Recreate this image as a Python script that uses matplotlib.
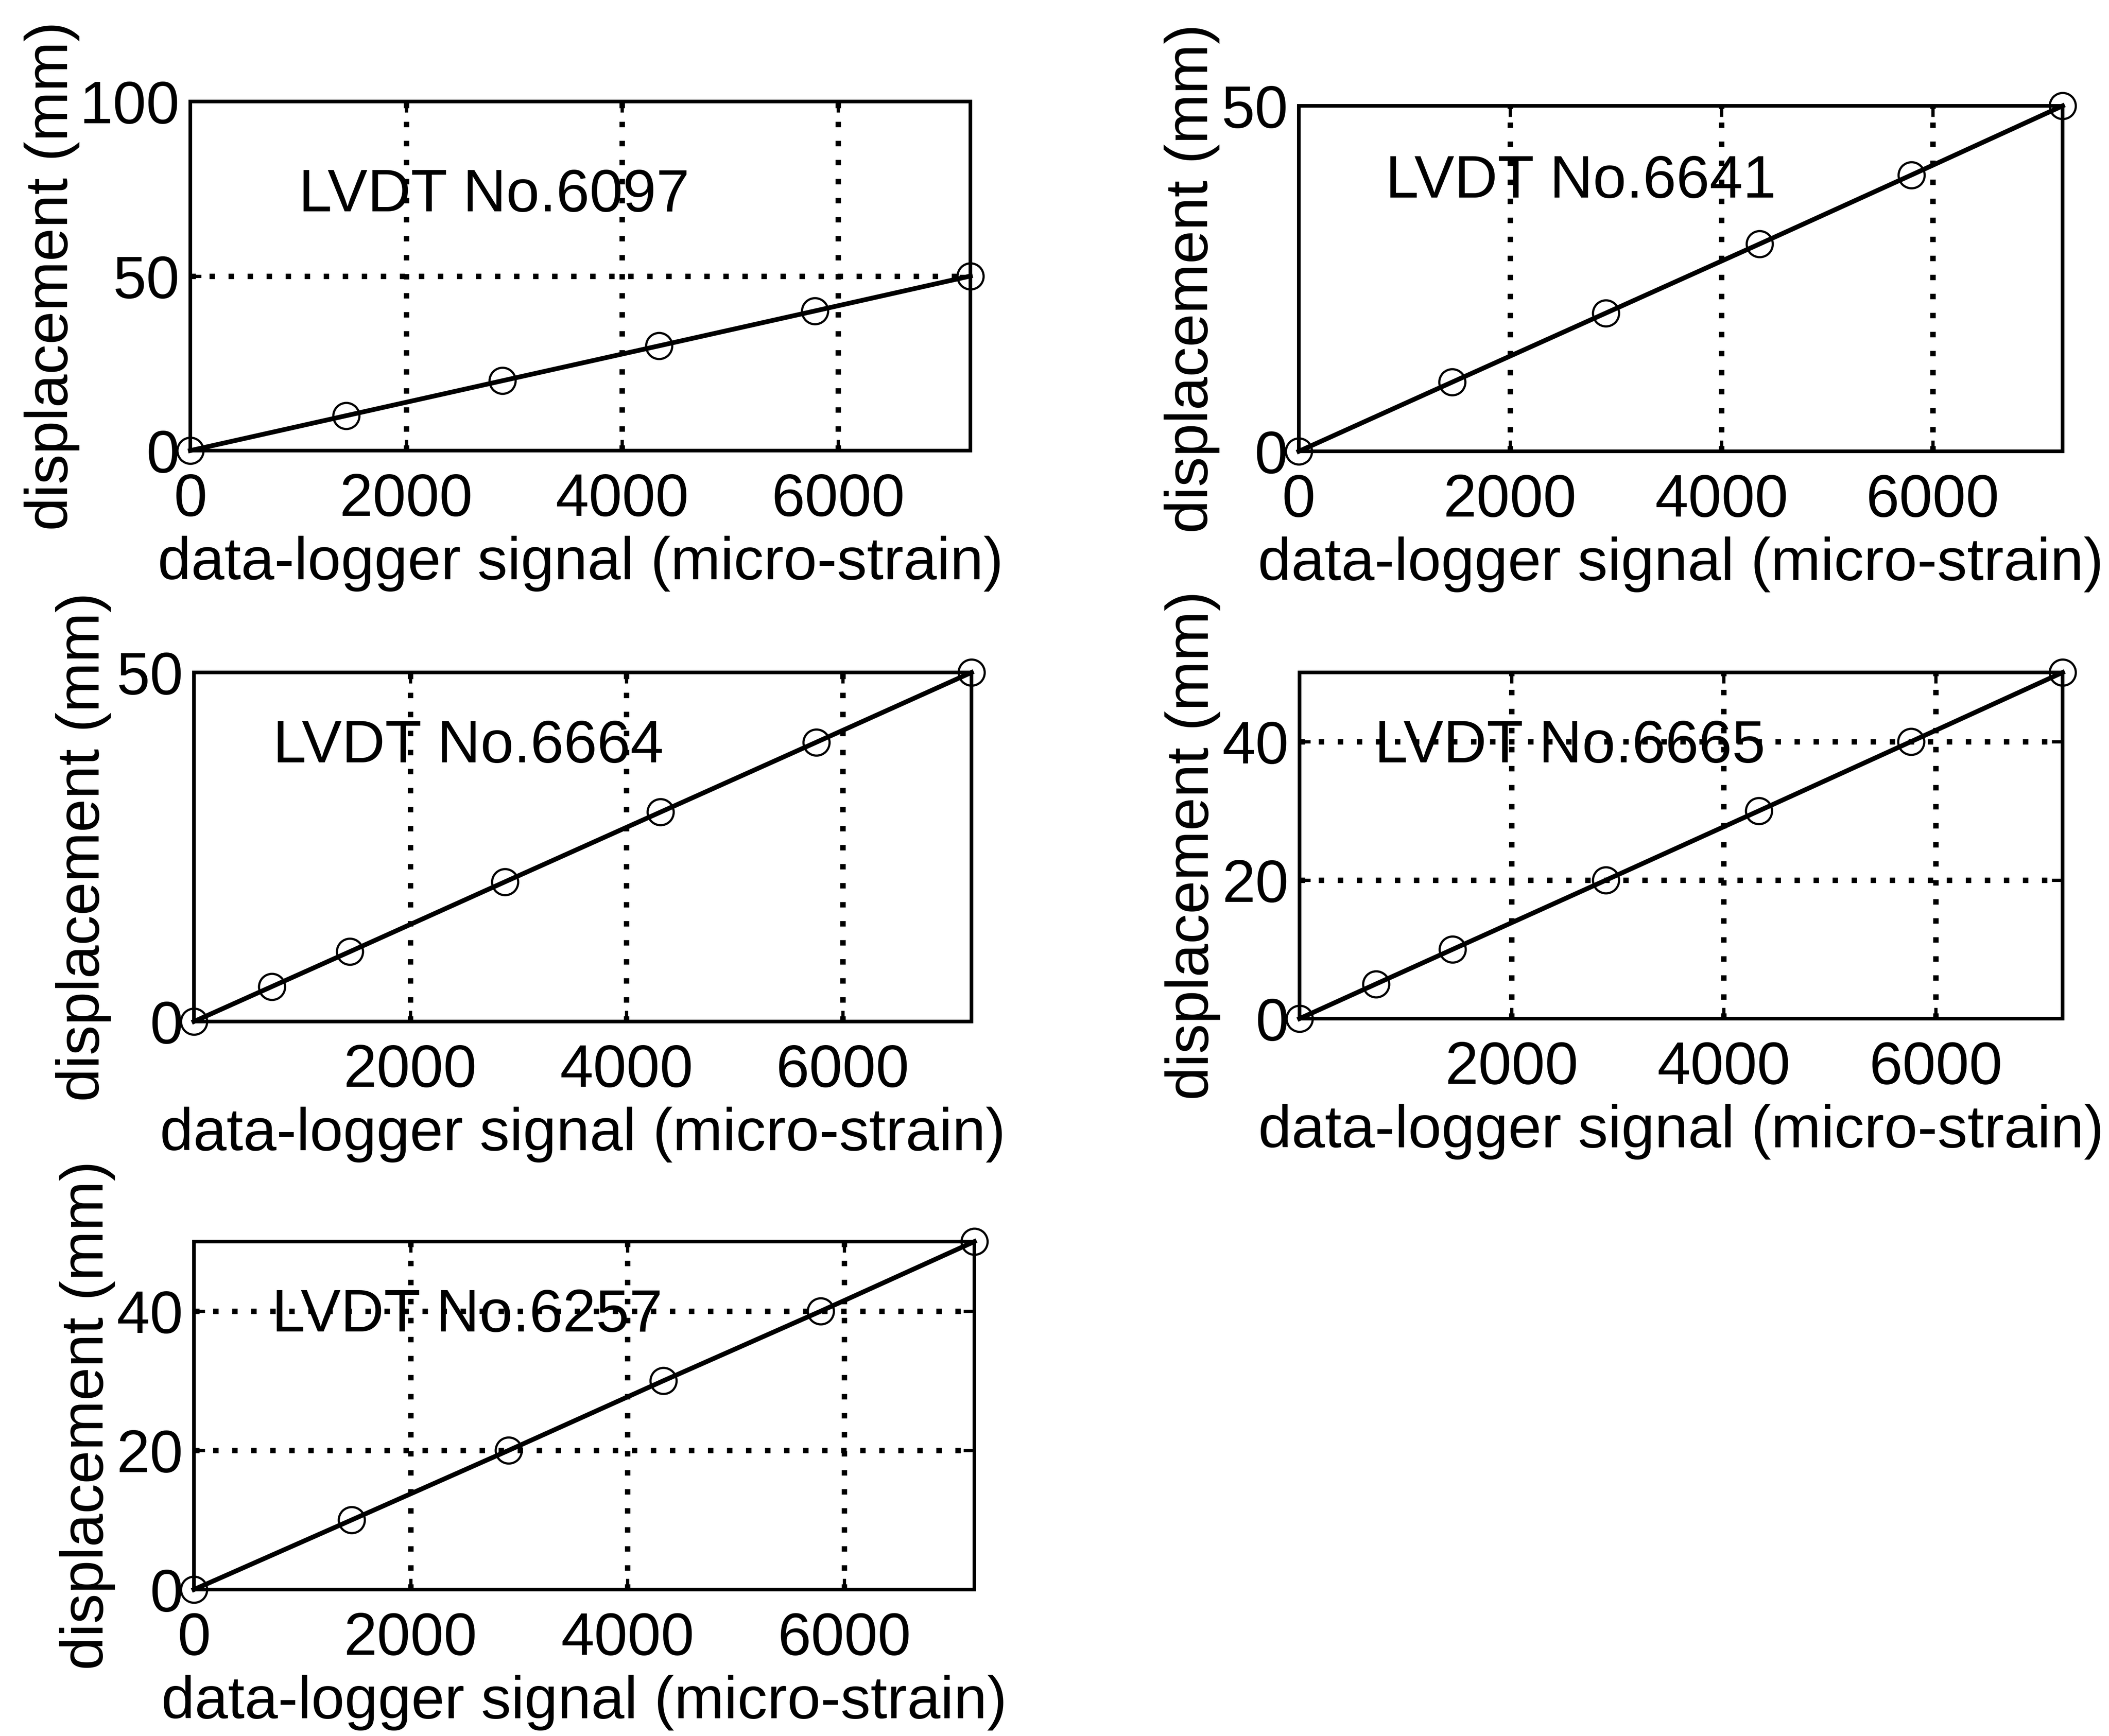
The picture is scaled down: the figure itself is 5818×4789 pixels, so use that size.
import matplotlib
matplotlib.use("Agg")
import matplotlib.pyplot as plt

# ---- calibration data: LVDT displacement vs data-logger signal ----
lvdt_names = ["LVDT No.6097", "LVDT No.6641", "LVDT No.6664", "LVDT No.6665", "LVDT No.6257"]

signal_6097 = [0, 1444, 2890, 4340, 5785, 7225]
disp_6097 = [0, 10, 20, 30, 40, 50]

signal_6641 = [0, 1450, 2905, 4360, 5800, 7230]
disp_6641 = [0, 10, 20, 30, 40, 50]

signal_6664 = [0, 720, 1441, 2875, 4315, 5755, 7190]
disp_6664 = [0, 5, 10, 20, 30, 40, 50]

signal_6665 = [0, 720, 1443, 2889, 4330, 5765, 7195]
disp_6665 = [0, 5, 10, 20, 30, 40, 50]

signal_6257 = [0, 1455, 2904, 4331, 5783, 7200]
disp_6257 = [0, 10, 20, 30, 40, 50]

signals = [signal_6097, signal_6641, signal_6664, signal_6665, signal_6257]
disps = [disp_6097, disp_6641, disp_6664, disp_6665, disp_6257]

y_limits = [(0, 100), (0, 50), (0, 50), (0, 50), (0, 50)]
y_ticks = [[0, 50, 100], [0, 50], [0, 50], [0, 20, 40], [0, 20, 40]]
x_ticks = [[0, 2000, 4000, 6000], [0, 2000, 4000, 6000], [2000, 4000, 6000],
           [2000, 4000, 6000], [0, 2000, 4000, 6000]]

xlabel_text = "data-logger signal (micro-strain)"
ylabel_text = "displacement (mm)"

# ---- layout (pixels in the saved image) ----
W, H = 5818, 4789
DPI = 100
# left, right, top, bottom of each axes box
boxes = [
    (525, 2677, 280, 1243),
    (3583, 5690, 292, 1245),
    (535, 2680, 1855, 2818),
    (3585, 5690, 1855, 2810),
    (535, 2688, 3425, 4385),
]
# gap (px) from axes left edge to the right side of the rotated y label
ylabel_gap = [305, 218, 228, 218, 217]
# annotation anchor in data coordinates (left, baseline)
note_pos = [(1004, 68.5), (820, 36.7), (731, 37.1), (707, 37.0), (719, 37.1)]

FS = 119            # ~165 px em
PX = 72.0 / DPI     # points per pixel

plt.rcParams["font.family"] = ["Liberation Sans", "DejaVu Sans"]

fig = plt.figure(figsize=(W / DPI, H / DPI), dpi=DPI, facecolor="white")

for i in range(5):
    l, r, t, b = boxes[i]
    ax = fig.add_axes([l / W, 1 - b / H, (r - l) / W, (b - t) / H])
    xs, ys = signals[i], disps[i]
    ax.set_xlim(0, xs[-1])
    ax.set_ylim(*y_limits[i])
    ax.set_xticks(x_ticks[i])
    ax.set_yticks(y_ticks[i])
    ax.set_xticklabels([str(v) for v in x_ticks[i]])
    ax.set_yticklabels([str(v) for v in y_ticks[i]])

    # dotted grid at interior tick positions
    grid_kw = dict(color="black", lw=15 * PX, linestyle=(0, (1, 2.5)), zorder=1)
    for xv in x_ticks[i]:
        if 0 < xv < xs[-1]:
            ax.axvline(xv, **grid_kw)
    for yv in y_ticks[i]:
        if y_limits[i][0] < yv < y_limits[i][1]:
            ax.axhline(yv, **grid_kw)

    ax.plot(xs, ys, color="black", lw=13 * PX, marker="o", ms=72 * PX,
            mfc="none", mec="black", mew=6 * PX, clip_on=False, zorder=3)

    for sp in ax.spines.values():
        sp.set_linewidth(10 * PX)
        sp.set_zorder(4)
    ax.tick_params(direction="in", length=30 * PX, width=9 * PX,
                   top=True, right=True, labelsize=FS, color="black")
    ax.tick_params(axis="x", pad=60 * PX)
    ax.tick_params(axis="y", pad=30 * PX)

    ax.text(note_pos[i][0], note_pos[i][1], lvdt_names[i], fontsize=FS,
            ha="left", va="baseline", zorder=5)

    ax.set_xlabel(xlabel_text, fontsize=FS)
    ax.set_ylabel(ylabel_text, fontsize=FS)
    ax.xaxis.set_label_coords(0.5, -235 / (b - t))
    ax.yaxis.set_label_coords(-ylabel_gap[i] / (r - l), 0.5)

fig.savefig("out.png", dpi=DPI, facecolor="white")
